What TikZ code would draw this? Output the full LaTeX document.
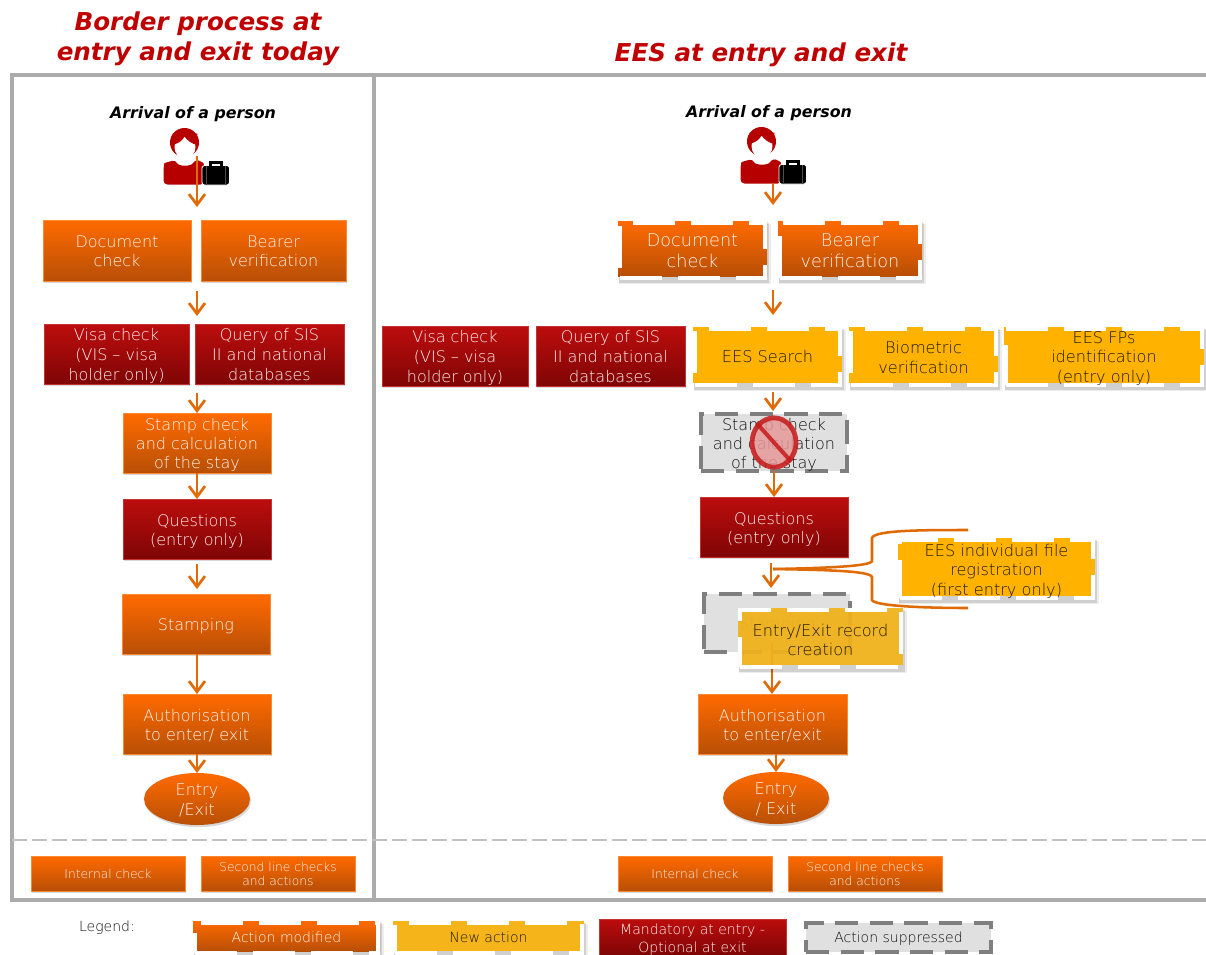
\documentclass[tikz,border=0pt]{standalone}
\usepackage{fontspec}
\setmainfont{DejaVu Sans}
\IfFontExistsTF{DejaVu Sans ExtraLight}{\newfontfamily\lite{DejaVu Sans ExtraLight}}{\newfontfamily\lite{DejaVu Sans}}
\usetikzlibrary{shadows,arrows.meta,calc,shapes.geometric}
\definecolor{orT}{HTML}{FF6A00}\definecolor{orB}{HTML}{B84F06}
\definecolor{rdT}{HTML}{BC0D0D}\definecolor{rdB}{HTML}{7F0505}
\definecolor{ylw}{HTML}{FFB300}\definecolor{ylwB}{HTML}{F4B41A}
\definecolor{arrowc}{HTML}{E06A05}\definecolor{frm}{HTML}{ABABAB}
\definecolor{ttl}{HTML}{C00000}\definecolor{txtO}{HTML}{FFF6EE}
\definecolor{txtR}{HTML}{FFF2F2}\definecolor{txtD}{HTML}{1E1600}
\definecolor{txtG}{HTML}{101010}\definecolor{greyd}{HTML}{7F7F7F}
\definecolor{greyf}{HTML}{E0E0E0}
\newcommand{\fs}[2]{\fontsize{#1}{#2}\selectfont}
\def\dyval{2.2pt}
% text block, lowered a little without changing the size of the node
\newcommand{\tb}[1]{\setbox0\hbox{\begin{tabular}{@{}c@{}}#1\end{tabular}}\raisebox{-\dyval}[\ht0][\dp0]{\copy0}}
% the same with no height, for the ellipses, whose size follows that of their text
\newcommand{\tbz}[1]{\setbox0\hbox{\begin{tabular}{@{}c@{}}#1\end{tabular}}\raisebox{-\dyval}[0pt][0pt]{\copy0}}
\tikzset{
  dy/.code={\def\dyval{#1}},
  basebox/.style={rectangle,inner sep=0pt,outer sep=0pt,align=center},
  sh/.style={drop shadow={opacity=.3,shadow xshift=.8pt,shadow yshift=-1.6pt}},
  big/.style={font=\lite\fs{12}{14.3}},
  bigthree/.style={font=\lite\fs{12}{15}},
  bigger/.style={font=\lite\fs{13.2}{15.7},dy=1.5pt},
  mid/.style={font=\lite\fs{12.1}{14.5}},
  small/.style={font=\lite\fs{9.2}{10.5},dy=2pt},
  leg/.style={font=\lite\fs{10.5}{13.5},dy=1pt},
  orangebox/.style={basebox,sh,top color=orT,bottom color=orB,draw=orT!80!white,line width=.4pt,text=txtO},
  redbox/.style={basebox,sh,top color=rdT,bottom color=rdB,draw=rdT!85!white,line width=.4pt,text=txtR},
  wdash/.style={draw=white,line width=3pt,dash pattern=on 31.5pt off 12pt},
  ofill/.style={top color=orT,bottom color=orB},
  yfill/.style={fill=ylw},
  yfillb/.style={fill=ylwB},
  greybox/.style={basebox,fill=greyf,draw=greyd,line width=2.5pt,dash pattern=on 17.5pt off 8.5pt,text=txtG},
  arr/.style={draw=arrowc,line width=2pt,-{Straight Barb[length=8pt,width=12pt,line width=2pt]}},
  bracket/.style={draw=arrowc,line width=1.9pt},
  head/.style={font=\bfseries\itshape\fs{11.85}{14},text=black,inner sep=0pt},
  titlet/.style={font=\bfseries\itshape\fs{18.45}{22.5},text=ttl,align=center,inner sep=0pt},
  traveller/.pic={
    \fill[ttl!95!black] (0,0) circle[radius=14.5];
    \fill[white] (0.5,4.5) circle[x radius=10.5,y radius=12];
    \fill[ttl!95!black] (-11,2) .. controls (-6,1) and (-2,-2) .. (0,-6) .. controls (3,-2) and (7,1) .. (11,2) -- (13,-9) -- (-12,-9) -- cycle;
    \fill[ttl!95!black,rounded corners=3pt] (-21,42) -- (-21,25) .. controls (-20,20) and (-14,19) .. (-9,17)
      .. controls (-6,24) and (7,24) .. (10,17) .. controls (14,18) and (19,20) .. (20,25) -- (20,42) -- cycle;
    \fill[black,rounded corners=2pt,draw=white,line width=.6pt] (17.5,23) rectangle (45,42.5);
    \draw[black,line width=1.6pt] (26,23) -- (26,20) -- (37,20) -- (37,23);
    \draw[black!70!white,line width=.3pt] (22,23) -- (22,42) (41,23) -- (41,42);
  },
}
% \bx[style]{name}{x1}{y1}{x2}{y2}{text}
\newcommand{\bx}[7][]{\node[#1,minimum width={(#5-#3)*.75pt},minimum height={(#6-#4)*.75pt}] (#2) at ({(#3+#5)/2},{(#4+#6)/2}) {\tb{#7}};}
% \wb[style]{name}{fill}{x1}{y1}{x2}{y2}{text}: box with the white dashed edge
\newcommand{\wb}[8][]{%
  \fill[black,opacity=.07] ({#4+1},{#5+3}) rectangle ({#6+3.5},{#7+4});
  \fill[black,opacity=.12] ({#4+1},{#5+2}) rectangle ({#6+2},{#7+2.5});
  \path[#3] (#4,#5) rectangle (#6,{#7-4});
  \draw[wdash] ({#4+2},{#7-2}) -- ({#6-2},{#7-2}) -- ({#6-2},{#5+2}) -- ({#4+2},{#5+2}) -- cycle;
  \node[basebox,#1,minimum width={(#6-#4)*.75pt},minimum height={(#7-#5)*.75pt}] (#2) at ({(#4+#6)/2},{(#5+#7)/2}) {\tb{#8}};}
\begin{document}
\begin{tikzpicture}[x=.75pt,y=-.75pt]
\useasboundingbox (0,0) rectangle (1206,954);
\fill[white] (0,0) rectangle (1206,954);

% titles
\node[titlet] (t1) at (198,39) {Border process at\\entry and exit today};
\node[titlet] (t2) at (761,55) {EES at entry and exit};

% frame
\draw[frm,line width=2.3pt] (1206,75) -- (12,75) -- (12,900) -- (1206,900);
\draw[frm,line width=2.3pt] (374,75) -- (374,900);
\draw[frm!75!white,line width=1.4pt,dash pattern=on 11pt off 4pt] (12,840) -- (1206,840);

% left column
\node[head] (h1) at (193,114) {Arrival of a person};
\pic (p1) at (184.5,142.5) {traveller};
\bx[orangebox,big]{ldoc}{43}{220}{191}{281}{Document\\check}
\bx[orangebox,big]{lbear}{201}{220}{346}{281}{Bearer\\verification}
\bx[redbox,bigthree]{lvisa}{44}{324}{189}{384}{Visa check\\(VIS – visa\\holder only)}
\bx[redbox,bigthree]{lquery}{195}{324}{344}{384}{Query of SIS\\II and national\\databases}
\bx[orangebox,big]{lstamp}{123}{413}{271}{473}{Stamp check\\and calculation\\of the stay}
\bx[redbox,big]{lq}{123}{499}{271}{559}{Questions\\(entry only)}
\bx[orangebox,big]{lstamping}{122}{594}{270}{654}{Stamping}
\bx[orangebox,big]{lauth}{123}{694}{271}{754}{Authorisation\\to enter/ exit}
\node[basebox,sh,ellipse,top color=orT,bottom color=orB,text=txtO,bigthree,dy=4.6pt,minimum width=79.5pt,minimum height=39pt] (lexit) at (197,799) {\tbz{Entry\\/Exit}};
\bx[orangebox,small]{lint}{31}{856}{185}{891}{Internal check}
\bx[orangebox,small]{lsec}{201}{856}{355}{891}{Second line checks\\and actions}

% right column
\node[head] (h2) at (769,113) {Arrival of a person};
\pic (p2) at (761.5,141.5) {traveller};
\wb[bigger,text=txtO]{rdoc}{ofill}{618}{221}{767}{280}{Document\\check}
\wb[bigger,text=txtO]{rbear}{ofill}{778}{221}{922}{280}{Bearer\\verification}
\bx[redbox,bigthree,dy=1.5pt]{rvisa}{382}{326}{528}{386}{Visa check\\(VIS – visa\\holder only)}
\bx[redbox,bigthree,dy=1.5pt]{rquery}{536}{326}{685}{386}{Query of SIS\\II and national\\databases}
\wb[mid,dy=1.5pt,text=txtD]{rees}{yfill}{693}{327}{842}{387}{EES Search}
\wb[mid,dy=2pt,text=txtD]{rbio}{yfill}{849}{327}{998}{387}{Biometric\\verification}
\wb[mid,dy=1.5pt,text=txtD]{rfps}{yfill}{1004}{327}{1204}{387}{EES FPs\\identification\\(entry only)}
\bx[greybox,big]{rstamp}{701}{414}{847}{471}{Stamp check\\and calculation\\of the stay}
\bx[redbox,big]{rq}{700}{497}{848}{557}{Questions\\(entry only)}
\bx[greybox,big]{rstamping}{704}{594}{850}{652}{\textcolor{greyd}{Stamping}}
\bx[orangebox,big]{rauth}{698}{694}{847}{754}{Authorisation\\to enter/exit}
\node[basebox,sh,ellipse,top color=orT,bottom color=orB,text=txtO,bigthree,dy=4.6pt,minimum width=79.5pt,minimum height=39pt] (rexit) at (776,798) {\tbz{Entry\\/ Exit}};
\bx[orangebox,small]{rint}{618}{856}{772}{891}{Internal check}
\bx[orangebox,small]{rsec}{788}{856}{942}{891}{Second line checks\\and actions}
\wb[mid,text=txtD]{rind}{yfill}{898}{538}{1095}{600}{EES individual file\\registration\\(first entry only)}

% free ends of the connectors
\coordinate (x197) at (197,0);
\coordinate (a1s) at (197,156); \coordinate (a1e) at (197,207);
\coordinate (a2s) at (197,291); \coordinate (a2e) at (197,316);
\coordinate (a3s) at (197,393); \coordinate (a4s) at (197,564); \coordinate (a4e) at (197,589);
\coordinate (b1s) at (773,183); \coordinate (b1e) at (773,205);
\coordinate (b2s) at (773,290); \coordinate (b2e) at (773,315);
\coordinate (b3s) at (773,392); \coordinate (b3e) at (773,411);
\coordinate (b4s) at (771,563); \coordinate (b4e) at (771,588);
\coordinate (b5s) at (772,643); \coordinate (br1) at (968,530); \coordinate (br2) at (968,608);
\coordinate (brt) at (773,569);

% the arrow passes under the new action box
\draw[arr] (b5s) -- (rauth.north -| b5s);
\wb[mid,dy=2.5pt,text=txtD]{rrec}{fill=ylwB,fill opacity=.92}{738}{608}{903}{669}{Entry/Exit record\\creation}

% stop sign
\node[ellipse,inner sep=0pt,draw=ttl!90!white,line width=3.6pt,fill=ttl!40!white,fill opacity=.85,draw opacity=.85,minimum width=33pt,minimum height=37pt] (stop) at (774,442.5) {};
\draw[ttl!90!white,opacity=.85,line width=3pt] (stop.north west) -- (stop.south east);

\draw[arr] (a1s) -- (a1e);
\draw[arr] (a2s) -- (a2e);
\draw[arr] (a3s) -- (lstamp.north);
\draw[arr] (lstamp.south) -- (lq.north);
\draw[arr] (a4s) -- (a4e);
\draw[arr] (lstamping.south -| x197) -- (lauth.north -| x197);
\draw[arr] (lauth.south) -- (lexit.north);
\draw[arr] (b1s) -- (b1e);
\draw[arr] (b2s) -- (b2e);
\draw[arr] (b3s) -- (b3e);
\draw[arr] (rstamp.south) -- (rq.north);
\draw[arr] (b4s) -- (b4e);
\draw[arr] (rauth.south -| rexit) -- (rexit.north);
\draw[bracket] (br1) .. controls (925,530) and (874,530) .. (872,538) -- (872,561) .. controls (871,566) and (830,568) .. (brt);
\draw[bracket] (br2) .. controls (925,608) and (874,606) .. (872,600) -- (872,577) .. controls (870,571) and (830,570) .. (brt);

% legend
\node[leg,inner sep=0pt,text=txtG] (lg) at (107,928) {Legend:};
\wb[leg,text=txtO]{lg1}{ofill}{193}{921}{380}{955}{Action modified}
\wb[leg,text=txtD]{lg2}{yfillb}{393}{921}{584}{955}{New action}
\bx[redbox,leg,dy=1.8pt]{lg3}{599}{921}{786}{953}{Mandatory at entry -\\Optional at exit}
\bx[greybox,leg]{lg4}{806}{923}{991}{952}{Action suppressed}
\end{tikzpicture}
\end{document}
